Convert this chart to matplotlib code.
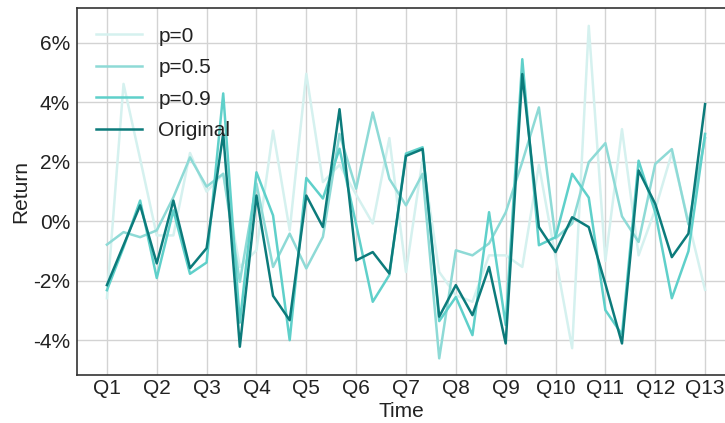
import matplotlib
matplotlib.use("Agg")
import matplotlib.pyplot as plt
import numpy as np

plt.rcParams['font.family'] = ['Liberation Sans', 'DejaVu Sans']

quarters = ["Q1", "Q2", "Q3", "Q4", "Q5", "Q6", "Q7", "Q8", "Q9", "Q10", "Q11", "Q12", "Q13"]

p0 = [-2.58, 4.62, 2.1, -0.47, -0.47, 2.3, 1.0, 1.6, -1.53, -0.97, 3.05, -0.3, 4.96,
      1.32, 1.9, 0.9, -0.07, 2.8, -1.7, 2.1, -1.7, -2.48, -2.7, -1.14, -1.14, -1.53,
      1.9, -1.2, -4.26, 6.57, -1.33, 3.1, -1.14, 0.4, 2.3, 0.0, -2.3]
p05 = [-0.78, -0.36, -0.53, -0.3, 0.81, 2.15, 1.17, 1.6, -2.03, 1.27, -1.53, -0.41, -1.58,
       -0.52, 2.94, 1.1, 3.66, 1.43, 0.54, 1.6, -4.6, -0.97, -1.14, -0.74, 0.3, 2.0,
       3.83, -0.57, -0.07, 1.99, 2.63, 0.17, -0.69, 1.93, 2.43, -0.1, 2.8]
p09 = [-2.31, -0.87, 0.7, -1.9, 0.37, -1.76, -1.38, 4.3, -3.4, 1.65, 0.2, -3.99, 1.46,
       0.77, 2.44, -0.1, -2.7, -1.8, 2.28, 2.49, -3.35, -2.54, -3.82, 0.31, -3.48, 5.45,
       -0.8, -0.53, 1.6, 0.8, -2.98, -3.8, 2.04, 0.31, -2.58, -1.0, 2.94]
original = [-2.14, -0.8, 0.54, -1.41, 0.70, -1.57, -0.9, 2.95, -4.21, 0.87, -2.5, -3.32, 0.87,
            -0.19, 3.77, -1.31, -1.03, -1.75, 2.2, 2.43, -3.2, -2.14, -3.15, -1.53, -4.1, 4.95,
            -0.19, -1.03, 0.14, -0.19, -2.1, -4.1, 1.71, 0.59, -1.2, -0.41, 3.94]

series = [("p=0", p0, "#d5f1ef"), ("p=0.5", p05, "#8edad6"),
          ("p=0.9", p09, "#5fd0ca"), ("Original", original, "#0c7b7b")]

fig = plt.figure(figsize=(7.25, 4.23), dpi=100)
ax = fig.add_axes([77/725, 48/423, (725-77)/725, (375-8)/423])

x = np.arange(len(original))
for name, vals, col in series:
    ax.plot(x, vals, color=col, lw=1.8, label=name)

ax.set_xticks(np.arange(0, len(original), 3))
ax.set_xticklabels(quarters)
ax.set_yticks([-4, -2, 0, 2, 4, 6])
ax.set_yticklabels(["-4%", "-2%", "0%", "2%", "4%", "6%"])
ax.set_xlim(-1.8, 37.2)
ax.set_ylim(-5.16, 7.17)
ax.grid(True, color="#d3d3d3", lw=1)
ax.set_axisbelow(True)
ax.tick_params(axis="x", length=0, labelsize=15, colors="#222222", pad=3)
ax.tick_params(axis="y", length=0, labelsize=15, colors="#222222", pad=5)
for s in ["left", "bottom", "top"]:
    ax.spines[s].set_color("#333333")
    ax.spines[s].set_linewidth(1.2)
ax.spines["right"].set_visible(False)
ax.set_xlabel("Time", fontsize=15, color="#222222", labelpad=3)
ax.set_ylabel("Return", fontsize=15, color="#222222", labelpad=2)

leg = ax.legend(loc="upper left", frameon=False, fontsize=15, handlelength=2.2,
                handletextpad=0.8, labelspacing=0.6, borderaxespad=0.5)
for t in leg.get_texts():
    t.set_color("#222222")

fig.savefig("out.png", dpi=100)
